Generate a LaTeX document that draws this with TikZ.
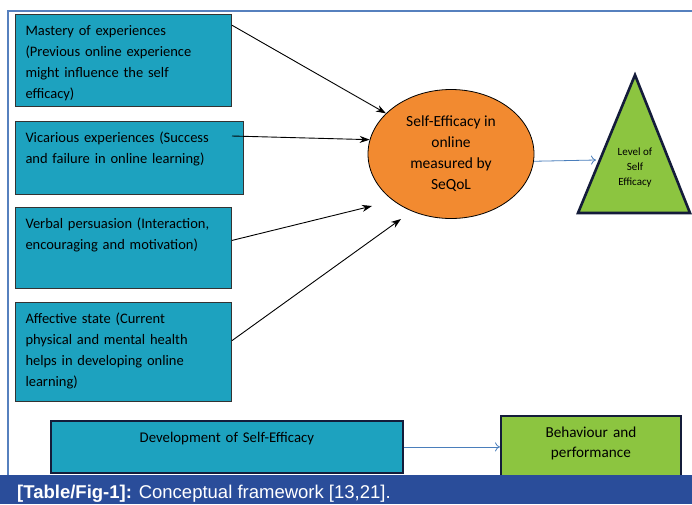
\documentclass[tikz,border=0pt]{standalone}
\usepackage{fontspec}
\setmainfont{Carlito}
\newfontfamily\capfont{Liberation Sans}
\usetikzlibrary{arrows.meta,shapes.geometric}

\definecolor{boxteal}{RGB}{29,162,191}
\definecolor{ovalorange}{RGB}{242,138,48}
\definecolor{levelgreen}{RGB}{140,197,64}
\definecolor{darknavy}{RGB}{20,28,58}
\definecolor{linkblue}{RGB}{74,126,187}
\definecolor{framebar}{RGB}{42,77,154}
\definecolor{frameline}{RGB}{86,128,190}

\begin{document}
\begin{tikzpicture}[x=1pt,y=-1pt]
\tikzstyle{every node}=[font=\fontsize{14.5}{21}\selectfont];
\tikzstyle{cause}=[draw=black!80,fill=boxteal,line width=1pt,anchor=north west,
  inner xsep=10pt,inner ysep=0pt,align=left,text height=21pt];
\tikzstyle{outcome}=[draw=darknavy,line width=1.8pt,anchor=north west,
  inner xsep=0pt,inner ysep=0pt,align=center,text height=22pt];
\tikzstyle{push}=[-{Stealth[length=10pt,width=7pt]},line width=0.9pt];
\tikzstyle{lead}=[-{To[length=5pt,width=9pt]},draw=linkblue,line width=0.8pt];
\useasboundingbox (0,0) rectangle (692,504);

% outer frame
\draw[frameline,line width=1.2pt] (8,475) -- (8,11) -- (692,11);

% sources of self efficacy
\node[cause,text width=196pt,text depth=71pt] (mastery) at (15,14)
  {Mastery of experiences\\(Previous online experience\\might influence the self\\efficacy)};
\node[cause,text width=208pt,text depth=52pt] (vicar) at (15,121)
  {Vicarious experiences (Success\\and failure in online learning)};
\node[cause,text width=196pt,text depth=60pt] (verbal) at (15,207)
  {Verbal persuasion (Interaction,\\encouraging and motivation)};
\node[cause,text width=196pt,text depth=78pt] (affect) at (15,302)
  {Affective state (Current\\physical and mental health\\helps in developing online\\learning)};

\node[ellipse,draw=black,fill=ovalorange,line width=0.8pt,minimum width=166pt,
  minimum height=129pt,inner sep=0pt,align=center,font=\fontsize{15.5}{21}\selectfont] (sqol) at (451,154)
  {Self-Efficacy in\\online\\measured by\\SeQoL};

% level triangle
\draw[darknavy,fill=levelgreen,line width=2.6pt,line join=miter]
  (635,75) -- (690,213) -- (578,213) -- cycle;
\node[font=\fontsize{11}{15}\selectfont,align=center] (level) at (635,168)
  {Level of\\Self\\Efficacy};
\coordinate (tside) at (596,160);

\coordinate (p3) at (372,206);
\coordinate (p4) at (401,219);
\draw[push] (mastery.18) -- (sqol.148);
\draw[push] ([xshift=-12pt,yshift=22pt]vicar.east) -- (sqol.170);
\draw[push] (verbal.4.5) -- (p3);
\draw[push] (affect.6) -- (p4);
\draw[lead] (sqol.-5) -- (tside);

% bottom row
\node[outcome,fill=boxteal,minimum width=352pt,text width=352pt,text depth=30pt,
  font=\fontsize{14.8}{21}\selectfont] (devel) at (50,420)
  {Development of Self-Efficacy};
\node[outcome,fill=levelgreen,minimum width=180pt,text width=180pt,text depth=48pt,
  font=\fontsize{15.2}{20}\selectfont] (behav) at (500,415)
  {Behaviour and\\performance};
\draw[lead] (devel.east) -- (behav.west |- devel.east);

% caption bar
\fill[framebar] (0,475) rectangle (692,504);
\node[anchor=base west,text=white,font=\capfont\fontsize{18.5}{20}\selectfont,inner sep=0pt] (cap) at (17,498)
  {\textbf{[Table/Fig-1]:} Conceptual framework [13,21].};
\end{tikzpicture}
\end{document}
